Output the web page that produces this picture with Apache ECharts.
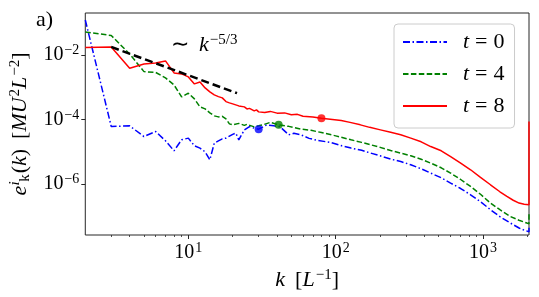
<!DOCTYPE html>
<html><head><meta charset="utf-8">
<script src="https://cdn.jsdelivr.net/npm/echarts@6/dist/echarts.min.js"></script>
<style>html,body{margin:0;padding:0;background:#fff}#c{width:539px;height:297px}</style>
</head><body><div id="c"></div>
<script>
// ---- data ----
const kBlue = [2,3,4,5,6,7,8,9,10,11,12,13,14,15,16,17,18,20,21,22,24,26,28,30,34,38,42,48,52,58,66,76,93,110,127,150,173,200,236,276,323,380,441,520,602,700,822,960,1122,1300,1531,1754,1900,2047,2048];
const eBlue = [1.21e-1,6.08e-5,6.39e-5,2.98e-5,4.26e-5,2.20e-5,1.08e-5,2.36e-5,2.66e-5,1.54e-5,1.31e-5,1.00e-5,5.68e-6,1.86e-5,2.20e-5,2.53e-5,2.66e-5,3.49e-5,3.80e-5,2.36e-5,4.80e-5,6.08e-5,5.42e-5,5.05e-5,6.86e-5,6.39e-5,5.95e-5,3.37e-5,3.75e-5,3.37e-5,2.62e-5,2.24e-5,1.95e-5,1.54e-5,1.31e-5,1.12e-5,9.15e-6,7.55e-6,5.97e-6,5.03e-6,3.98e-6,2.99e-6,2.20e-6,1.58e-6,1.08e-6,7.47e-7,4.70e-7,2.86e-7,1.62e-7,9.82e-8,6.27e-8,4.39e-8,3.76e-8,3.38e-8,4.49e-8];

const kGreen = [2,3,4,5,6,7,8,9,10,11,12,13,14,15,16,17,18,19,20,22,24,25,28,30,32,36,41,48,58,68,80,100,127,150,173,200,236,276,323,380,441,520,602,700,822,960,1122,1300,1531,1750,1981,2047,2048];
const eGreen = [5.14e-2,4.01e-2,1.07e-2,3.05e-3,2.88e-3,1.95e-3,1.18e-3,5.03e-4,6.55e-4,4.36e-4,2.47e-4,2.14e-4,1.61e-4,1.30e-4,1.21e-4,1.26e-4,1.05e-4,7.36e-5,6.86e-5,7.63e-5,6.62e-5,7.11e-5,5.95e-5,6.39e-5,6.86e-5,8.19e-5,6.86e-5,6.16e-5,5.05e-5,4.64e-5,3.97e-5,3.13e-5,2.36e-5,1.97e-5,1.65e-5,1.38e-5,1.10e-5,9.15e-6,7.55e-6,5.89e-6,4.49e-6,3.21e-6,2.20e-6,1.42e-6,8.49e-7,4.87e-7,2.60e-7,1.62e-7,1.00e-7,7.66e-8,6.27e-8,5.97e-8,1.40e-7];

const kRed = [2,3,4,5,6,7,8,9,10,11,12,13,14,15,16,17,18,19,20,22,24,25,26,28,29,30,33,36,40,45,50,55,60,70,80,95,109,125,147,170,201,236,276,323,380,441,520,602,700,822,960,1122,1300,1450,1600,1754,1900,2047,2048];
const eRed = [1.71e-2,1.77e-2,3.88e-3,5.27e-3,5.66e-3,6.53e-3,2.78e-3,2.59e-3,2.09e-3,1.27e-3,1.46e-3,9.55e-4,7.18e-4,5.80e-4,5.14e-4,4.69e-4,3.60e-4,3.28e-4,3.06e-4,2.65e-4,2.47e-4,2.14e-4,2.22e-4,1.86e-4,2.00e-4,1.73e-4,1.65e-4,1.79e-4,1.58e-4,1.61e-4,1.40e-4,1.45e-4,1.26e-4,1.21e-4,1.105e-4,1.01e-4,9.31e-5,8.19e-5,6.86e-5,5.74e-5,4.80e-5,4.02e-5,3.37e-5,2.66e-5,2.05e-5,1.46e-5,1.08e-5,7.18e-6,4.59e-6,2.79e-6,1.63e-6,9.58e-7,5.82e-7,4.17e-7,3.18e-7,2.60e-7,2.39e-7,2.31e-7,8.68e-5];

const kRef = [3, 21.4];
const eRef = [1.77e-2, 6.55e-4];

const markK = [30, 41, 80];          // blue, green, red markers
const tLabels = ['0', '4', '8'];
const xMajor = [10, 100, 1000];
const xMinor = [3,4,5,6,7,8,9,20,30,40,50,60,70,80,90,200,300,400,500,600,700,800,900,2000];
const yMajor = [1e-6, 1e-4, 1e-2];
const xRange = [2, 2048];
const yRange = [2.67e-8, 0.199];

// ---- chart ----
const FONT = 'Liberation Serif';
const AX = '#262626';
const zip = (ks, es) => ks.map((k, i) => [k, es[i]]);
const at = (ks, es, k) => es[ks.indexOf(k)];
const sup = (v) => { const p = Math.round(Math.log10(v)); return '{b|10}{s|' + (p < 0 ? '\u2212' : '') + Math.abs(p) + '}'; };
const tickRich = {
  b: {fontFamily: FONT, fontSize: 20, color: '#000'},
  s: {fontFamily: FONT, fontSize: 14, color: '#000', padding: [0, 0, 9, 1]}
};
const mathRich = {
  e: {fontFamily: FONT, fontSize: 22, color: '#000'},
  i: {fontFamily: FONT, fontSize: 22, fontStyle: 'italic', color: '#000'},
  sp: {fontFamily: FONT, fontSize: 22, color: '#000', width: 10},
  s: {fontFamily: FONT, fontSize: 15, color: '#000', padding: [0, 0, 10, 1]},
  si: {fontFamily: FONT, fontSize: 15, fontStyle: 'italic', color: '#000', padding: [0, 0, 10, 1], width: 3},
  sb: {fontFamily: FONT, fontSize: 15, color: '#000', padding: [9, 1, 0, 0]}
};
const colors = ['#0000ff', '#008000', '#ff0000'];
const names = tLabels.map(t => 't = ' + t);

const chart = echarts.init(document.getElementById('c'), null, {renderer: 'canvas'});
chart.setOption({
  animation: false,
  backgroundColor: '#fff',
  grid: {left: 82, right: 10, top: 13, bottom: 62, show: true, borderColor: AX, borderWidth: 1, backgroundColor: 'transparent'},
  xAxis: [{
    type: 'log', logBase: 10, min: xRange[0], max: xRange[1],
    axisLine: {show: false}, splitLine: {show: false}, minorTick: {show: false},
    axisTick: {show: true, inside: false, length: 4, lineStyle: {color: AX, width: 1}, customValues: xMajor},
    axisLabel: {customValues: xMajor, formatter: sup, margin: 6, rich: tickRich},
    name: '{i|k}{sp| }{e|[}{i|L}{s|\u22121}{e|]}', nameLocation: 'middle', nameGap: 29,
    nameTextStyle: {rich: mathRich}
  }, {
    type: 'log', logBase: 10, min: xRange[0], max: xRange[1], position: 'bottom', offset: 0,
    axisLine: {show: false}, splitLine: {show: false}, axisLabel: {show: false},
    axisTick: {show: true, length: 2, lineStyle: {color: AX, width: 0.8}, customValues: xMinor}
  }],
  yAxis: {
    type: 'log', logBase: 10, min: yRange[0], max: yRange[1],
    axisLine: {show: false}, splitLine: {show: false}, minorTick: {show: false},
    axisTick: {show: true, length: 4, lineStyle: {color: AX, width: 1}, customValues: yMajor},
    axisLabel: {customValues: yMajor, formatter: sup, margin: 6, rich: tickRich},
    name: '{i|e}{si|i}{sb|k}{e|(}{i|k}{e|)}{sp| }{e|[}{i|MU}{s|2}{i|L}{s|\u22122}{e|]}',
    nameLocation: 'middle', nameRotate: 90, nameGap: 51,
    nameTextStyle: {rich: mathRich}
  },
  legend: {
    orient: 'vertical', left: 394, top: 24,
    padding: [7, 10, 11, 8], itemWidth: 44, itemHeight: 14, itemGap: 10,
    backgroundColor: 'rgba(255,255,255,0.8)', borderColor: '#cccccc', borderWidth: 1, borderRadius: 4,
    itemStyle: {color: 'rgba(0,0,0,0)', borderWidth: 0, opacity: 0},
    textStyle: {fontFamily: FONT, fontSize: 22, color: '#000', lineHeight: 20, padding: [0, 0, 0, 11],
      rich: {
        i: {fontFamily: FONT, fontSize: 22, fontStyle: 'italic', color: '#000'},
        q: {fontFamily: FONT, fontSize: 22, color: '#000', padding: [0, 6, 0, 6]}
      }},
    formatter: n => '{i|t}{q|=}' + n.split('= ')[1],
    data: names
  },
  graphic: [
    {type: 'text', left: 36, top: 9, style: {text: 'a)', font: '22px "Liberation Serif"', fill: '#000'}},
    {type: 'text', left: 171, top: 33, style: {text: '{e|\u223c}{sp| }{i|k}{s|\u22125/3}', rich: mathRich}}
  ],
  series: [
    {name: names[0], type: 'line', symbol: 'none', data: zip(kBlue, eBlue), z: 2,
     lineStyle: {color: colors[0], width: 1.5, type: [7, 2.5, 1.5, 2.5]}, itemStyle: {color: colors[0]}},
    {name: names[1], type: 'line', symbol: 'none', data: zip(kGreen, eGreen), z: 3,
     lineStyle: {color: colors[1], width: 1.5, type: [5.5, 2.4]}, itemStyle: {color: colors[1]}},
    {name: names[2], type: 'line', symbol: 'none', data: zip(kRed, eRed), z: 4,
     lineStyle: {color: colors[2], width: 1.5, type: 'solid'}, itemStyle: {color: colors[2]}},
    {type: 'line', symbol: 'none', data: zip(kRef, eRef), z: 5,
     lineStyle: {color: '#000', width: 2.5, type: [8, 4]}},
    {type: 'scatter', symbolSize: 8, z: 6, data: [
      {value: [markK[0], at(kBlue, eBlue, markK[0])], itemStyle: {color: colors[0]}},
      {value: [markK[1], at(kGreen, eGreen, markK[1])], itemStyle: {color: colors[1]}},
      {value: [markK[2], at(kRed, eRed, markK[2])], itemStyle: {color: colors[2]}}
    ]}
  ]
});
</script></body></html>
